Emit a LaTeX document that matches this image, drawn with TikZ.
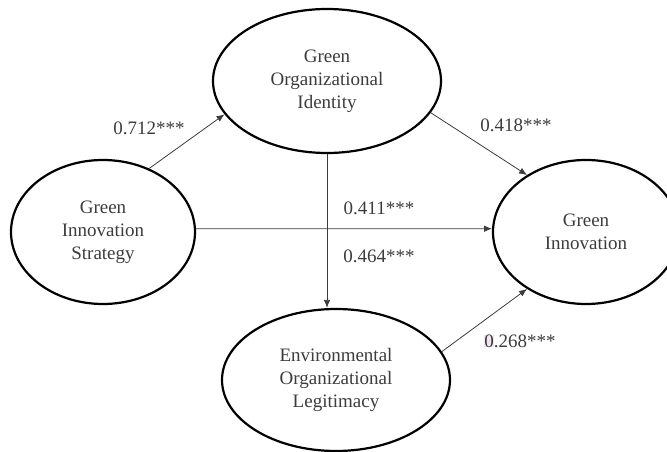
\documentclass[tikz,border=0pt]{standalone}
\usepackage{fontspec}
\setmainfont{Liberation Serif}
\usetikzlibrary{shapes.geometric,arrows.meta}
\definecolor{inkgray}{HTML}{3C3C3C}
\definecolor{markpink}{HTML}{F1E4F1}

\begin{document}
\begin{tikzpicture}[x=1pt,y=1pt,
    construct/.style={ellipse,draw=black,line width=2.2pt,align=center,
      font=\fontsize{19}{23}\selectfont,text=inkgray,inner sep=0pt},
    coef/.style={font=\fontsize{19}{23}\selectfont,text=inkgray,inner sep=0pt},
    effect/.style={draw=inkgray,line width=0.8pt,-{Latex[length=8pt,width=6.5pt]}}]
  \clip (0,0) rectangle (667,452);
  % constructs
  \node[construct,minimum width=184pt,minimum height=144pt] (gis) at (103,220) {Green\\Innovation\\Strategy};
  \node[construct,minimum width=228pt,minimum height=144pt] (goi) at (327,371) {Green\\Organizational\\Identity};
  \node[construct,minimum width=186pt,minimum height=144pt] (gi) at (586,220) {Green\\Innovation};
  \node[construct,minimum width=228pt,minimum height=142pt] (eol) at (336,72) {Environmental\\Organizational\\Legitimacy};
  % paths
  \draw[effect] (gis.54) -- (goi.198);
  \draw[effect] (goi.343) -- (gi.136.5);
  \draw[effect] (gis.2) -- (gi.178);
  \draw[effect] (goi.south) -- (goi.south |- eol.north);
  \draw[effect] (eol.15) -- (gi.224);
  % coefficients
  \node[coef] (b1) at (149,324) {0.712***};
  \node[coef] (b2) at (516,327) {0.418***};
  \node[coef] (b3) at (379,244) {0.411***};
  \node[coef] (b4) at (379,196) {0.464***};
  \node[coef] (b5) at (520,111) {{\setlength{\fboxsep}{0pt}\colorbox{markpink}{0}}.268***};
\end{tikzpicture}
\end{document}
